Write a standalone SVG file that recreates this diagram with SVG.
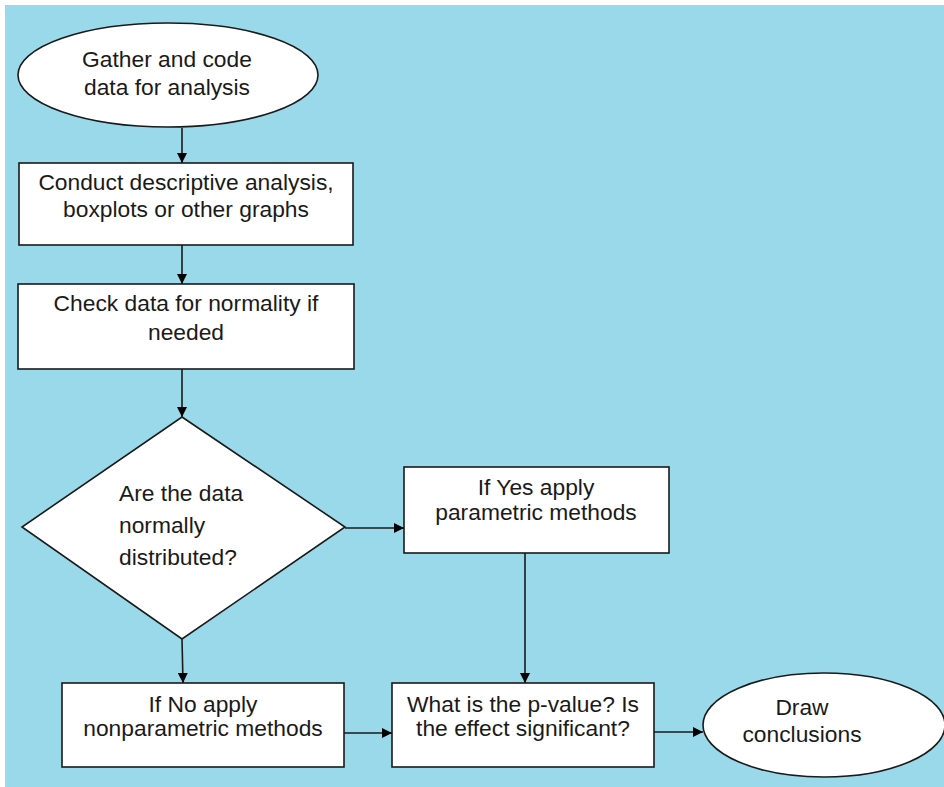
<svg xmlns="http://www.w3.org/2000/svg" width="944" height="787" viewBox="0 0 944 787">
<style>
.n{fill:#fff;stroke:#1a1a1a;stroke-width:1.6}
.t{font-family:"Liberation Sans",Arial,sans-serif;font-size:22.8px;fill:#1a1a1a;text-anchor:middle}
.l{text-anchor:start}
.c{stroke:#1a1a1a;stroke-width:1.6;fill:none;marker-end:url(#ah)}
</style>
<defs>
<marker id="ah" viewBox="0 0 10 10" refX="10" refY="5" markerWidth="10" markerHeight="10" markerUnits="userSpaceOnUse" orient="auto">
<path d="M0,0 L10,5 L0,10 Z" fill="#000"/>
</marker>
</defs>
<rect x="0" y="0" width="944" height="787" fill="#fff"/>
<rect x="5" y="5" width="939" height="782" fill="#99D9EA"/>
<g id="connectors">
<line class="c" x1="182" y1="128" x2="182" y2="163"/>
<line class="c" x1="182" y1="245" x2="182" y2="284"/>
<line class="c" x1="182" y1="369" x2="182" y2="417"/>
<line class="c" x1="345" y1="528" x2="404" y2="528"/>
<line class="c" x1="182" y1="639" x2="183" y2="683"/>
<line class="c" x1="525" y1="553" x2="525" y2="683"/>
<line class="c" x1="344" y1="733" x2="392" y2="733"/>
<line class="c" x1="654" y1="732" x2="703" y2="732"/>
</g>
<g id="gather">
<ellipse class="n" cx="168" cy="75" rx="150" ry="52"/>
<text class="t" x="167" y="67">Gather and code</text>
<text class="t" x="167" y="95">data for analysis</text>
</g>
<g id="descriptive">
<rect class="n" x="19" y="163" width="334" height="82"/>
<text class="t" x="186" y="190">Conduct descriptive analysis,</text>
<text class="t" x="186" y="217">boxplots or other graphs</text>
</g>
<g id="normality">
<rect class="n" x="18" y="284" width="336" height="85"/>
<text class="t" x="186" y="311">Check data for normality if</text>
<text class="t" x="186" y="340">needed</text>
</g>
<g id="decision">
<polygon class="n" points="182,417 345,527 182,639 22,527"/>
<text class="t l" x="119" y="501">Are the data</text>
<text class="t l" x="119" y="533">normally</text>
<text class="t l" x="119" y="565">distributed?</text>
</g>
<g id="parametric">
<rect class="n" x="404" y="467" width="265" height="86"/>
<text class="t" x="536" y="495">If Yes apply</text>
<text class="t" x="536" y="520">parametric methods</text>
</g>
<g id="nonparametric">
<rect class="n" x="62" y="683" width="282" height="84"/>
<text class="t" x="203" y="712">If No apply</text>
<text class="t" x="203" y="736">nonparametric methods</text>
</g>
<g id="pvalue">
<rect class="n" x="392" y="683" width="262" height="84"/>
<text class="t" x="523" y="712">What is the p-value? Is</text>
<text class="t" x="523" y="736">the effect significant?</text>
</g>
<g id="conclusions">
<ellipse class="n" cx="824" cy="725" rx="121" ry="52"/>
<text class="t" x="802" y="715">Draw</text>
<text class="t" x="802" y="742">conclusions</text>
</g>
</svg>
